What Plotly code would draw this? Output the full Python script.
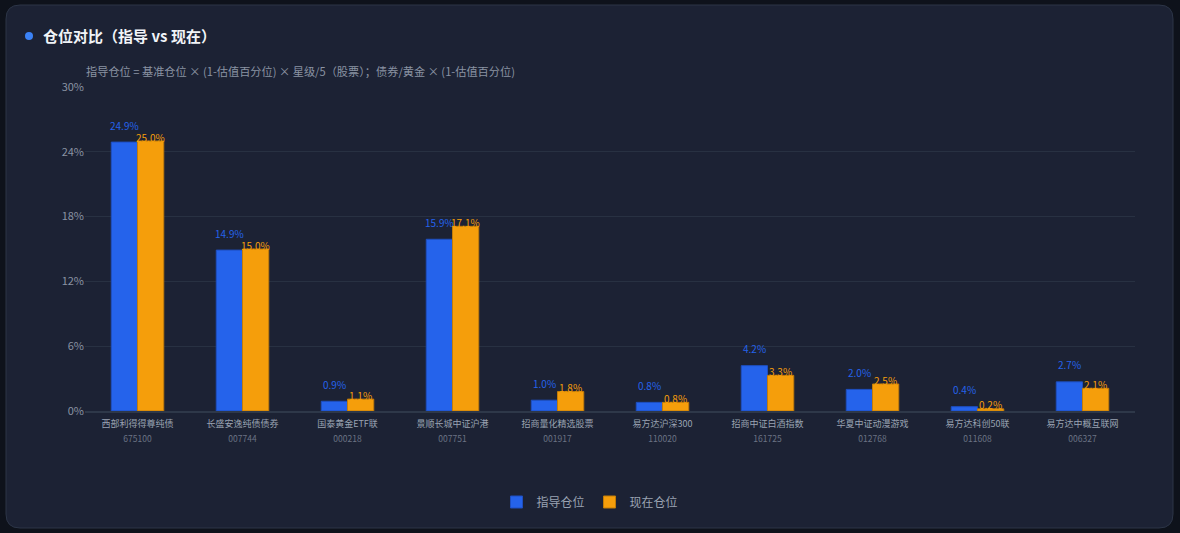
import plotly.graph_objects as go

# 基金名称 / 代码
names = ["西部利得得尊纯债", "长盛安逸纯债债券", "国泰黄金ETF联", "景顺长城中证沪港", "招商量化精选股票",
         "易方达沪深300", "招商中证白酒指数", "华夏中证动漫游戏", "易方达科创50联", "易方达中概互联网"]
codes = ["675100", "007744", "000218", "007751", "001917",
         "110020", "161725", "012768", "011608", "006327"]

# 仓位 (%)
guide_pos = [24.9, 14.9, 0.9, 15.9, 1.0, 0.8, 4.2, 2.0, 0.4, 2.7]
now_pos = [25.0, 15.0, 1.1, 17.1, 1.8, 0.8, 3.3, 2.5, 0.2, 2.1]

W, H = 1180, 533
L, R, T, B = 85, 45, 87, 122
BLUE, ORANGE = "#2563eb", "#f59e0b"
FONT = "Noto Sans CJK SC"


def px_x(x):
    return (x - L) / (W - L - R)


def px_y(y):
    return (H - B - y) / (H - T - B)


def rounded_rect(x0, y0, x1, y1, r):
    # rect in pixel coords -> svg path in paper coords
    pts = [
        f"M {px_x(x0 + r)} {px_y(y0)}",
        f"L {px_x(x1 - r)} {px_y(y0)}",
        f"Q {px_x(x1)} {px_y(y0)} {px_x(x1)} {px_y(y0 + r)}",
        f"L {px_x(x1)} {px_y(y1 - r)}",
        f"Q {px_x(x1)} {px_y(y1)} {px_x(x1 - r)} {px_y(y1)}",
        f"L {px_x(x0 + r)} {px_y(y1)}",
        f"Q {px_x(x0)} {px_y(y1)} {px_x(x0)} {px_y(y1 - r)}",
        f"L {px_x(x0)} {px_y(y0 + r)}",
        f"Q {px_x(x0)} {px_y(y0)} {px_x(x0 + r)} {px_y(y0)}",
        "Z",
    ]
    return " ".join(pts)


# base tick font is larger to open up the line spacing; the spans set the real sizes
ticktext = [f"<span style='font-size:9px'>{n}</span><br><span style='font-size:8.5px;color:#6b7384'>{c}</span>"
            for n, c in zip(names, codes)]
xs = list(range(len(names)))

fig = go.Figure()
fig.add_trace(go.Bar(x=xs, y=guide_pos, name="指导仓位", marker=dict(color=BLUE, line=dict(color="#1e4fc0", width=1))))
fig.add_trace(go.Bar(x=xs, y=now_pos, name="现在仓位", marker=dict(color=ORANGE, line=dict(color="#c27c08", width=1))))

annotations = []
for i, (g, n) in enumerate(zip(guide_pos, now_pos)):
    annotations.append(dict(x=i - 0.125, y=g, text=f"{g:.1f}%", showarrow=False, yanchor="middle", yshift=17,
                            font=dict(size=10, color=BLUE, family=FONT)))
    annotations.append(dict(x=i + 0.125, y=n, text=f"{n:.1f}%", showarrow=False, yanchor="middle", yshift=4,
                            font=dict(size=10, color=ORANGE, family=FONT)))

# 标题和说明
annotations.append(dict(xref="paper", yref="paper", x=px_x(41), y=px_y(36), xanchor="left", yanchor="middle",
                        text="<b>仓位对比（指导 vs 现在）</b>", showarrow=False,
                        font=dict(size=15, color="#f1f4f8", family=FONT)))
annotations.append(dict(xref="paper", yref="paper", x=px_x(84), y=px_y(71), xanchor="left", yanchor="middle",
                        text="指导仓位 = 基准仓位 × (1-估值百分位) × 星级/5（股票）；债券/黄金 × (1-估值百分位)",
                        showarrow=False, font=dict(size=11.2, color="#8a93a3", family=FONT)))

shapes = [
    dict(type="path", xref="paper", yref="paper", path=rounded_rect(6, 5, 1173, 528, 14),
         fillcolor="#1c2234", line=dict(color="#2c3547", width=1), layer="below"),
    dict(type="circle", xref="paper", yref="paper", x0=px_x(25), x1=px_x(33), y0=px_y(32), y1=px_y(40),
         fillcolor="#3b82f6", line=dict(width=0)),
]

fig.update_layout(
    width=W, height=H,
    margin=dict(l=L, r=R, t=T, b=B),
    paper_bgcolor="#0e121b",
    plot_bgcolor="rgba(0,0,0,0)",
    barmode="group", bargap=0.5, bargroupgap=0,
    font=dict(family=FONT, color="#9aa3b2"),
    shapes=shapes,
    annotations=annotations,
    showlegend=True,
    legend=dict(orientation="h", x=px_x(590), xanchor="center", y=px_y(502), yanchor="middle",
                font=dict(size=12, color="#9aa3b2"), itemwidth=30, bgcolor="rgba(0,0,0,0)"),
)
fig.update_xaxes(tickmode="array", tickvals=xs, ticktext=ticktext, range=[-0.5, len(names) - 0.5],
                 tickfont=dict(size=11.5, color="#9aa3b2"), showline=True, linecolor="#2e3849", linewidth=1.5,
                 ticks="", showgrid=False, ticklabelstandoff=0)
fig.update_yaxes(range=[0, 30], dtick=6, ticksuffix="%", tickfont=dict(size=11, color="#8a93a3"),
                 gridcolor="#283142", gridwidth=1, zeroline=False, showline=False, ticks="")

# page margin off so the figure fills the window
fig.write_html("out.html", config={"displayModeBar": False},
               post_script="document.body.style.margin='0';")
